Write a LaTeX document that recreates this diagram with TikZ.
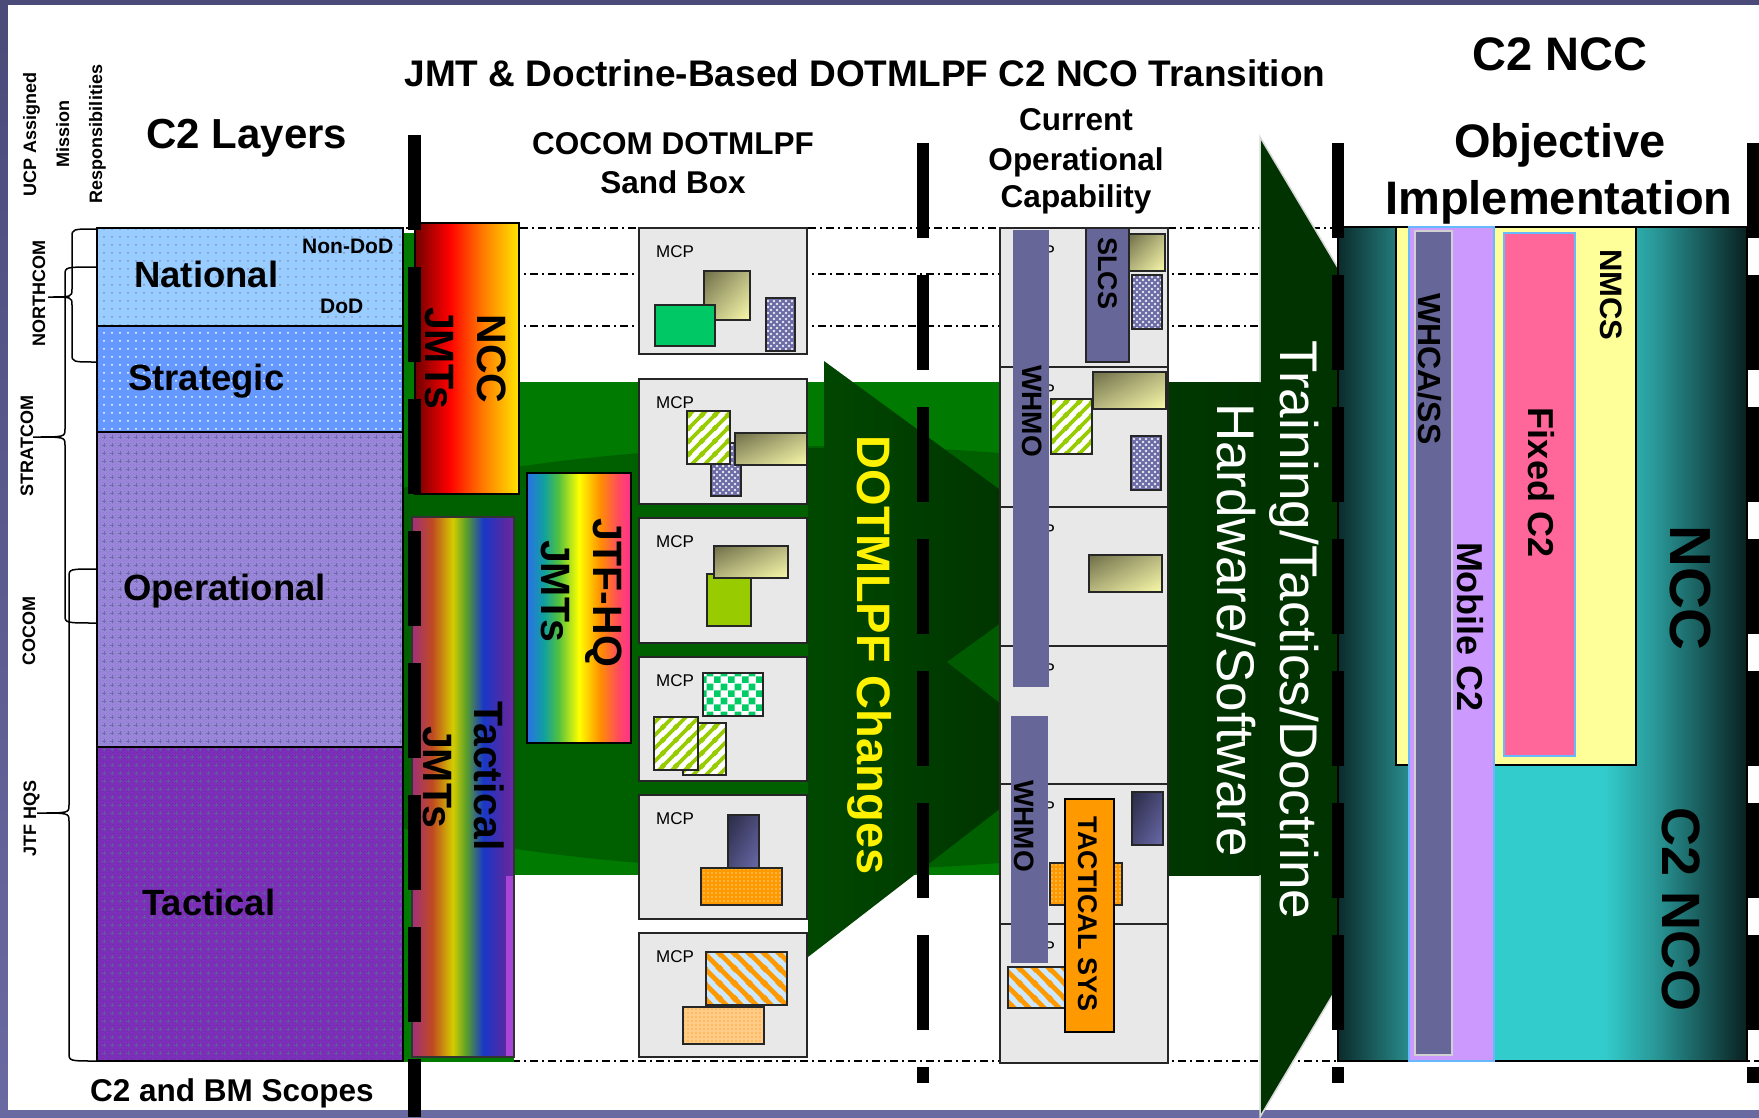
\documentclass[tikz,border=0pt]{standalone}
\usepackage{fontspec}
\setmainfont{Liberation Sans}
\usetikzlibrary{patterns,shadings}

\definecolor{frameA}{HTML}{4B4B7A}
\definecolor{frameB}{HTML}{6A6AA2}
\definecolor{natB}{HTML}{99CCFF}
\definecolor{natDot}{HTML}{7F93B8}
\definecolor{strB}{HTML}{6699FF}
\definecolor{opB}{HTML}{9C88DA}
\definecolor{opMesh}{HTML}{8C78CE}
\definecolor{opDot}{HTML}{6E6EA6}
\definecolor{tacB}{HTML}{7E30BA}
\definecolor{tacMesh}{HTML}{6E28AC}
\definecolor{tacDot}{HTML}{5E5E98}
\definecolor{bandG}{HTML}{007A00}
\definecolor{ellG}{HTML}{006000}
\definecolor{arrowA}{HTML}{004800}
\definecolor{arrowB}{HTML}{002000}
\definecolor{notchG}{HTML}{005A00}
\definecolor{trA}{HTML}{004200}
\definecolor{trB}{HTML}{003200}
\definecolor{trHead}{HTML}{003300}
\definecolor{boxgray}{HTML}{E8E8E8}
\definecolor{olA}{HTML}{6E6E48}
\definecolor{olM}{HTML}{B8B880}
\definecolor{olB}{HTML}{FAFAAA}
\definecolor{slateB}{HTML}{6B6BA6}
\definecolor{greenR}{HTML}{00C864}
\definecolor{limeG}{HTML}{99CC00}
\definecolor{checkG}{HTML}{00CC66}
\definecolor{dslA}{HTML}{2A2A46}
\definecolor{dslM}{HTML}{4A4A78}
\definecolor{dslB}{HTML}{6A6AAA}
\definecolor{orangeB}{HTML}{FF9900}
\definecolor{orangeDot}{HTML}{FFD080}
\definecolor{lorB}{HTML}{FFCC88}
\definecolor{lorDot}{HTML}{FFA840}
\definecolor{ltblue}{HTML}{CCE8FF}
\definecolor{whmo}{HTML}{666699}
\definecolor{yellowN}{HTML}{FFFF99}
\definecolor{pinkF}{HTML}{FF6699}
\definecolor{lilac}{HTML}{CC99FF}
\definecolor{bordBlue}{HTML}{66B8FF}
\definecolor{stripP}{HTML}{A845D8}
\definecolor{nA}{HTML}{700000}\definecolor{nB}{HTML}{FF0000}\definecolor{nC}{HTML}{FF7A00}\definecolor{nD}{HTML}{FFE600}
\definecolor{tA}{HTML}{A0307A}\definecolor{tB}{HTML}{C04A20}\definecolor{tC}{HTML}{D4CC00}\definecolor{tD}{HTML}{5AA028}
\definecolor{tE}{HTML}{1838C8}\definecolor{tF}{HTML}{5A28A0}\definecolor{tG}{HTML}{6A2AA8}
\definecolor{jA}{HTML}{2A70E8}\definecolor{jB}{HTML}{10A0A0}\definecolor{jC}{HTML}{50C040}\definecolor{jD}{HTML}{FFFF00}
\definecolor{jE}{HTML}{FF9000}\definecolor{jF}{HTML}{FF4A60}\definecolor{jG}{HTML}{FF3090}
\definecolor{qA}{HTML}{0B2B2B}\definecolor{qB}{HTML}{2A9090}\definecolor{qC}{HTML}{33CCCC}\definecolor{qD}{HTML}{2A9A9A}\definecolor{qE}{HTML}{0A2020}

\pgfdeclarehorizontalshading{nccsh}{100bp}{color(0bp)=(nA); color(25bp)=(nA); color(41.5bp)=(nB); color(57.5bp)=(nC); color(75bp)=(nD); color(100bp)=(nD)}
\pgfdeclarehorizontalshading{tacsh}{100bp}{color(0bp)=(tA); color(25bp)=(tA); color(35bp)=(tB); color(45bp)=(tC); color(51.5bp)=(tD); color(60bp)=(tE); color(71bp)=(tF); color(75bp)=(tG); color(100bp)=(tG)}
\pgfdeclarehorizontalshading{jtfsh}{100bp}{color(0bp)=(jA); color(25bp)=(jA); color(33bp)=(jB); color(40bp)=(jC); color(50bp)=(jD); color(60bp)=(jE); color(69bp)=(jF); color(75bp)=(jG); color(100bp)=(jG)}
\pgfdeclarehorizontalshading{tealsh}{100bp}{color(0bp)=(qA); color(25bp)=(qA); color(34bp)=(qB); color(42.5bp)=(qC); color(57.5bp)=(qC); color(63.5bp)=(qD); color(75bp)=(qE); color(100bp)=(qE)}

\pgfdeclarepatternformonly{gdots}{\pgfqpoint{-2pt}{-2pt}}{\pgfqpoint{2pt}{2pt}}{\pgfqpoint{8pt}{8pt}}{\pgfpathcircle{\pgfpointorigin}{1pt}\pgfusepath{fill}}
\pgfdeclarepatternformonly{hexdots}{\pgfqpoint{-1.5pt}{-1.5pt}}{\pgfqpoint{4.5pt}{4.5pt}}{\pgfqpoint{6pt}{6pt}}{\pgfpathcircle{\pgfpointorigin}{1.3pt}\pgfpathcircle{\pgfqpoint{3pt}{3pt}}{1.3pt}\pgfusepath{fill}}
\pgfdeclarepatternformonly{odots}{\pgfqpoint{-1.5pt}{-1.5pt}}{\pgfqpoint{1.5pt}{1.5pt}}{\pgfqpoint{4pt}{4pt}}{\pgfpathcircle{\pgfpointorigin}{0.9pt}\pgfusepath{fill}}
\pgfdeclarepatternformonly{plusgrid}{\pgfqpoint{-2pt}{-2pt}}{\pgfqpoint{2pt}{2pt}}{\pgfqpoint{8pt}{8pt}}{\pgfsetlinewidth{0.9pt}\pgfpathmoveto{\pgfqpoint{-1.6pt}{0pt}}\pgfpathlineto{\pgfqpoint{1.6pt}{0pt}}\pgfpathmoveto{\pgfqpoint{0pt}{-1.6pt}}\pgfpathlineto{\pgfqpoint{0pt}{1.6pt}}\pgfusepath{stroke}}
\pgfdeclarepatternformonly{nestripe}{\pgfpointorigin}{\pgfqpoint{13pt}{13pt}}{\pgfqpoint{13pt}{13pt}}{\pgfsetlinewidth{4pt}\pgfpathmoveto{\pgfqpoint{-2pt}{-2pt}}\pgfpathlineto{\pgfqpoint{15pt}{15pt}}\pgfpathmoveto{\pgfqpoint{-2pt}{11pt}}\pgfpathlineto{\pgfqpoint{4pt}{17pt}}\pgfpathmoveto{\pgfqpoint{11pt}{-2pt}}\pgfpathlineto{\pgfqpoint{17pt}{4pt}}\pgfusepath{stroke}}
\pgfdeclarepatternformonly{nwstripe}{\pgfpointorigin}{\pgfqpoint{15pt}{15pt}}{\pgfqpoint{15pt}{15pt}}{\pgfsetlinewidth{5pt}\pgfpathmoveto{\pgfqpoint{-2pt}{17pt}}\pgfpathlineto{\pgfqpoint{17pt}{-2pt}}\pgfpathmoveto{\pgfqpoint{-3pt}{3pt}}\pgfpathlineto{\pgfqpoint{3pt}{-3pt}}\pgfpathmoveto{\pgfqpoint{12pt}{18pt}}\pgfpathlineto{\pgfqpoint{18pt}{12pt}}\pgfusepath{stroke}}
\pgfdeclarepatternformonly{checker}{\pgfpointorigin}{\pgfqpoint{14pt}{14pt}}{\pgfqpoint{14pt}{14pt}}{\pgfpathrectangle{\pgfpointorigin}{\pgfqpoint{7pt}{7pt}}\pgfpathrectangle{\pgfqpoint{7pt}{7pt}}{\pgfqpoint{7pt}{7pt}}\pgfusepath{fill}}

\newcommand{\myfs}[1]{\fontsize{#1pt}{#1pt}\selectfont}
\newcommand{\mybrace}[5]{\draw[brc] (97,#2) .. controls (#1,#2) .. (#1,#2+8) -- (#1,#4-8) .. controls (#1,#4) .. (#5,#4) .. controls (#1,#4) .. (#1,#4+8) -- (#1,#3-8) .. controls (#1,#3) .. (97,#3);}

\tikzset{
  ddot/.style={line width=1.3pt, dash pattern=on 8pt off 4pt on 2pt off 4pt},
  vbar/.style={line width=12.5pt, dash pattern=on 95pt off 37pt},
  brc/.style={draw=black, line width=1.5pt},
  lay/.style={draw=black, line width=2.5pt},
  mcpbox/.style={fill=boxgray, draw=black!85, line width=2pt},
  olv/.style={upper left=olA, lower right=olB, upper right=olM, lower left=olM, draw=black!85, line width=1.6pt},
  dsl/.style={upper left=dslA, lower right=dslB, upper right=dslM, lower left=dslM, draw=black!85, line width=1.6pt},
  bdot/.style={preaction={fill=slateB}, pattern=hexdots, pattern color=white!85!slateB, draw=black!85, line width=1.6pt},
  lstr/.style={preaction={fill=white}, pattern=nestripe, pattern color=limeG, draw=black!85, line width=1.6pt},
  ostr/.style={preaction={fill=ltblue}, pattern=nwstripe, pattern color=orangeB, draw=black!85, line width=1.6pt},
  chk/.style={preaction={fill=white}, pattern=checker, pattern color=checkG, draw=black!85, line width=1.6pt},
  odot/.style={preaction={fill=orangeB}, pattern=odots, pattern color=orangeDot, draw=black!85, line width=1.6pt},
  lodot/.style={preaction={fill=lorB}, pattern=odots, pattern color=lorDot, draw=black!85, line width=1.6pt},
  hb/.style={inner sep=0pt, anchor=base, font=\bfseries\myfs{#1}},
  hbw/.style={inner sep=0pt, anchor=base west, font=\bfseries\myfs{#1}},
  rb/.style={inner sep=0pt, anchor=base, rotate=-90, font=\bfseries\myfs{#1}},
  lb/.style={inner sep=0pt, anchor=base, rotate=90, font=\bfseries\myfs{#1}},
  rn/.style={inner sep=0pt, anchor=base, rotate=-90, text=white, font=\myfs{#1}},
  mcpt/.style={inner sep=0pt, anchor=base west, font=\myfs{17}},
}

\begin{document}
\begin{tikzpicture}[x=1pt,y=-1pt]
\useasboundingbox (0,0) rectangle (1759,1117);
% frame
\shade[top color=frameA, bottom color=frameB] (0,0) rectangle (1759,1117);
\fill[white] (8,5) rectangle (1759,1110);

% dash-dot guide lines
\draw[ddot] (250,228) -- (1759,228);
\draw[ddot] (404,274) -- (1340,274);
\draw[ddot] (404,326) -- (1340,326);
\draw[ddot] (404,1061) -- (1759,1061);

% green band
\fill[bandG] (404,233) rectangle (514,1062);
\fill[bandG] (514,382) rectangle (1340,875);
\begin{scope}
  \clip (404,233) rectangle (514,1062) (514,382) rectangle (1340,875);
  \fill[ellG] (820,658) ellipse [x radius=700, y radius=212];
\end{scope}

% DOTMLPF arrow
\shade[left color=arrowA, right color=arrowB] (824,361) -- (1212,645) -- (808,957) -- (808,448) -- (824,448) -- cycle;
\fill[notchG] (947,662) -- (1005,620) -- (1005,707) -- cycle;

% Training arrow
\shade[left color=trA, right color=trB] (1000,382) rectangle (1262,875);
\fill[trHead] (1260,137) -- (1552,627) -- (1260,1117) -- cycle;
\draw[black!15, line width=1.5pt] (1260,382) -- (1260,137) -- (1552,627) -- (1260,1117) -- (1260,875);

% layers
\path[lay, preaction={fill=natB}, pattern=gdots, pattern color=natDot] (97,228) rectangle (403,326);
\path[lay, preaction={fill=strB}, pattern=gdots, pattern color=white] (97,326) rectangle (403,432);
\path[lay, preaction={fill=opB}, preaction={pattern=crosshatch dots, pattern color=opMesh}, pattern=plusgrid, pattern color=opDot] (97,432) rectangle (403,747);
\path[lay, preaction={fill=tacB}, preaction={pattern=crosshatch dots, pattern color=tacMesh}, pattern=plusgrid, pattern color=tacDot] (97,747) rectangle (403,1061);

% braces
\mybrace{72}{229}{362}{297}{48}
\mybrace{65}{267}{623}{437}{33}
\mybrace{69}{569}{1061}{813}{37}

% JMT boxes
\shadedraw[shading=nccsh, draw=black, line width=2pt] (415,223) rectangle (519,494);
\shadedraw[shading=tacsh, draw=black!80, line width=1.5pt] (412,517) rectangle (514,1057);
\fill[stripP] (506,876) rectangle (513,1056);
\shadedraw[shading=jtfsh, draw=black, line width=2pt] (527,473) rectangle (631,743);

% MCP boxes
\foreach \t/\b/\n in {228/354/1, 379/504/2, 518/643/3, 657/781/4, 795/919/5, 933/1057/6}{
  \draw[mcpbox] (639,\t) rectangle (807,\b);
  \node[mcpt] (mcp\n) at (656,\t+29) {MCP};
}
% box 1
\shadedraw[olv] (704,271) rectangle (750,320);
\draw[fill=greenR, draw=black!85, line width=1.6pt] (655,305) rectangle (715,346);
\path[bdot] (766,298) rectangle (795,351);
% box 2
\path[bdot] (711,443) rectangle (741,496);
\path[lstr] (687,411) rectangle (730,464);
\shadedraw[olv] (735,433) rectangle (807,465);
% box 3
\draw[fill=limeG, draw=black!85, line width=1.6pt] (707,574) rectangle (751,626);
\shadedraw[olv] (714,546) rectangle (788,578);
% box 4
\path[chk] (703,673) rectangle (763,716);
\path[lstr] (683,723) rectangle (726,775);
\path[lstr] (654,717) rectangle (698,770);
% box 5
\shadedraw[dsl] (728,815) rectangle (759,868);
\path[odot] (701,868) rectangle (782,905);
% box 6
\path[ostr] (706,952) rectangle (787,1005);
\path[lodot] (683,1007) rectangle (764,1044);

% Current operational capability column
\foreach \t/\b/\n in {228/367/1, 367/507/2, 507/646/3, 646/784/4, 784/924/5, 924/1063/6}{
  \draw[mcpbox] (1000,\t) rectangle (1168,\b);
  \node[mcpt] (frag\n) at (1017,\t+29) {MCP};
}
\shadedraw[olv] (1129,234) rectangle (1165,271);
\path[bdot] (1132,275) rectangle (1162,329);
\shadedraw[olv] (1093,372) rectangle (1166,409);
\path[lstr] (1051,399) rectangle (1092,454);
\path[bdot] (1131,436) rectangle (1161,490);
\shadedraw[olv] (1089,555) rectangle (1162,592);
\shadedraw[dsl] (1132,792) rectangle (1163,845);
\path[odot] (1050,863) rectangle (1122,905);
\path[ostr] (1008,967) rectangle (1065,1008);
\fill[whmo] (1013,230) rectangle (1049,687);
\fill[whmo] (1011,716) rectangle (1048,963);
\draw[fill=whmo, draw=black!85, line width=1.6pt] (1086,228) rectangle (1129,362);
\draw[fill=orangeB, draw=black, line width=2pt] (1065,799) rectangle (1114,1032);

% Objective implementation
\shadedraw[shading=tealsh, draw=black, line width=2pt] (1338,227) rectangle (1747,1061);
\draw[fill=yellowN, draw=black, line width=2pt] (1396,227) rectangle (1636,765);
\draw[fill=pinkF, draw=bordBlue, line width=1.5pt] (1504,233) rectangle (1575,756);
\draw[fill=lilac, draw=bordBlue, line width=1.5pt] (1409,227) rectangle (1494,1061);
\draw[fill=whmo, draw=black!18, line width=2pt] (1415,231) rectangle (1452,1055);

% vertical dashed bars
\draw[vbar] (414.5,135) -- (414.5,1117);
\draw[vbar] (923,143) -- (923,1083);
\draw[vbar] (1338,143) -- (1338,1083);
\draw[vbar] (1753,143) -- (1753,1083);

% header texts
\node[hb=37] (title) at (865,86) {JMT \& Doctrine-Based DOTMLPF C2 NCO Transition};
\node[hb=42] (c2lay) at (247,148) {C2 Layers};
\node[hb=31.5] (sb1) at (673,154) {COCOM DOTMLPF};
\node[hb=31.5] (sb2) at (673,193) {Sand Box};
\node[hb=31.5] (coc1) at (1076,130) {Current};
\node[hb=31.5] (coc2) at (1076,170) {Operational};
\node[hb=31.5] (coc3) at (1076,207) {Capability};
\node[hb=47] (ncc1) at (1560,70) {C2 NCC};
\node[hb=47] (obj1) at (1560,157) {Objective};
\node[hb=47] (obj2) at (1559,214) {Implementation};
\node[hb=31.5] (scope) at (232,1101) {C2 and BM Scopes};

% layer texts
\node[hbw=36.5] (nat) at (134,287) {National};
\node[hbw=36.5] (str) at (128,390) {Strategic};
\node[hbw=36.5] (opl) at (123,600) {Operational};
\node[hbw=36.5] (tac) at (142,915) {Tactical};
\node[hbw=21] (nondod) at (302,253) {Non-DoD};
\node[hbw=21] (dod) at (320,313) {DoD};

% left rotated labels
\node[lb=18] (ucp) at (36,134) {UCP Assigned};
\node[lb=18] (mis) at (69,134) {Mission};
\node[lb=18] (resp) at (102,134) {Responsibilities};
\node[lb=18] (northcom) at (45,293) {NORTHCOM};
\node[lb=18] (stratcom) at (33,446) {STRATCOM};
\node[lb=18] (cocom) at (35,631) {COCOM};
\node[lb=18] (jtfhqs) at (36,818) {JTF HQS};

% rotated box texts
\node[rb=41] (nccA) at (477,359) {NCC};
\node[rb=41] (jmtsA) at (425,358) {JMTs};
\node[rb=41] (tacB) at (474,776) {Tactical};
\node[rb=41] (jmtsB) at (423,777) {JMTs};
\node[rb=41] (jtf) at (593,593) {JTF-HQ};
\node[rb=41] (jmtsC) at (541,591) {JMTs};
\node[rb=47, text=yellow] (dotm) at (857,655) {DOTMLPF Changes};
\node[rn=53] (ttd) at (1280,630) {Training/Tactics/Doctrine};
\node[rn=53] (hws) at (1217,630) {Hardware/Software};
\node[rb=28] (whmoA) at (1022,411) {WHMO};
\node[rb=28] (whmoB) at (1014,826) {WHMO};
\node[rb=27] (slcs) at (1098,273) {SLCS};
\node[rb=27] (tsys) at (1078,914) {TACTICAL SYS};
\node[rb=31] (nmcs) at (1600,295) {NMCS};
\node[rb=36] (fixed) at (1528,483) {Fixed C2};
\node[rb=36] (mobile) at (1457,627) {Mobile C2};
\node[rb=32] (whca) at (1418,369) {WHCA/SS};
\node[rb=58] (nccB) at (1670,588) {NCC};
\node[rb=54] (c2nco) at (1662,910) {C2 NCO};
\end{tikzpicture}
\end{document}
